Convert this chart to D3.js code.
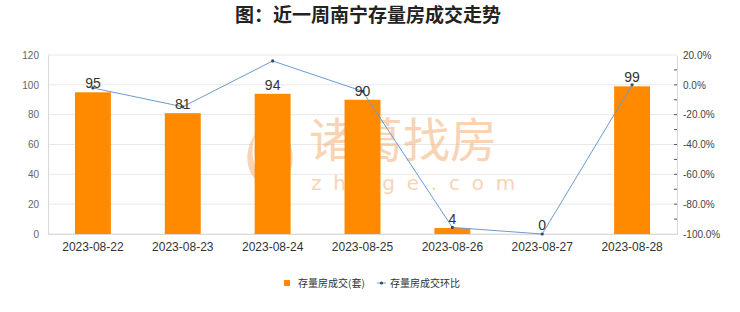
<!DOCTYPE html>
<html>
<head>
<meta charset="utf-8">
<script src="https://cdn.jsdelivr.net/npm/d3@7"></script>
<style>
  html, body { margin: 0; padding: 0; background: #fff; }
  svg { display: block; font-family: "Liberation Sans", Arial, sans-serif; }
</style>
</head>
<body>
<svg id="chart" width="740" height="312"></svg>
<script>
const dates = ['2023-08-22', '2023-08-23', '2023-08-24', '2023-08-25', '2023-08-26', '2023-08-27', '2023-08-28'];
const deals = [95, 81, 94, 90, 4, 0, 99];
const momPct = [-2.1, -14.7, 16.0, -4.3, -95.6, -100, 0];
const leftTicks = [0, 20, 40, 60, 80, 100, 120];
const rightTicks = [-100, -80, -60, -40, -20, 0, 20];

const box = { left: 48, right: 677, top: 55, bottom: 234 };
const cjk = '"Noto Sans CJK SC", sans-serif';

const svg = d3.select('#chart');

const x = d3.scaleBand()
    .domain(dates)
    .range([box.left, box.right])
    .paddingInner(0.6)
    .paddingOuter(0.3);
const yLeft = d3.scaleLinear().domain([0, 120]).range([box.bottom, box.top]);
const yRight = d3.scaleLinear().domain([-100, 20]).range([box.bottom, box.top]);
const cx = d => x(d) + x.bandwidth() / 2;

// title
svg.append('text')
    .attr('x', 368).attr('y', 22)
    .attr('text-anchor', 'middle')
    .style('font-family', cjk)
    .style('font-size', '19px')
    .style('font-weight', 'bold')
    .style('fill', '#222')
    .text('图：近一周南宁存量房成交走势');

// grid
svg.append('g')
    .selectAll('line')
    .data(leftTicks).enter()
    .append('line')
    .attr('x1', box.left).attr('x2', box.right)
    .attr('y1', d => yLeft(d)).attr('y2', d => yLeft(d))
    .style('stroke', '#e8e8e8');

// watermark
const wm = svg.append('g').style('opacity', 0.5);
wm.append('path')
    .attr('d', 'M267,122 C246,138 242,162 254,178 C260,184 267,182 267,176 Z M273,122 C294,138 298,162 286,178 C280,184 273,182 273,176 Z')
    .style('fill', '#f2aa6c');
wm.append('path')
    .attr('d', 'M257,134 C251,148 253,166 261,174 M283,134 C289,148 287,166 279,174')
    .style('fill', 'none').style('stroke', '#fff').style('stroke-width', 2);
wm.append('text')
    .attr('x', 309).attr('y', 157)
    .style('font-family', cjk)
    .style('font-size', '47px')
    .style('fill', '#f2aa6c')
    .text('诸葛找房');
wm.append('text')
    .attr('x', 311).attr('y', 190)
    .style('font-family', '"DejaVu Sans", sans-serif')
    .style('font-size', '20px')
    .style('letter-spacing', '11.8px')
    .style('fill', '#f2aa6c')
    .text('zhuge.com');

// axes
const xAxis = svg.append('g')
    .attr('transform', `translate(0, ${box.bottom})`)
    .call(d3.axisBottom(x).tickSize(0).tickPadding(8));
xAxis.select('.domain').style('stroke', '#d9d9d9');
xAxis.selectAll('text').style('font-size', '12px').style('fill', '#333');

const yAxisL = svg.append('g')
    .attr('transform', `translate(${box.left}, 0)`)
    .call(d3.axisLeft(yLeft).tickValues(leftTicks).tickSize(0).tickPadding(9));
yAxisL.select('.domain').style('stroke', '#d9d9d9');
yAxisL.selectAll('text').style('font-size', '10px').style('fill', '#666');

const yAxisR = svg.append('g')
    .attr('transform', `translate(${box.right}, 0)`)
    .call(d3.axisRight(yRight).tickValues(rightTicks).tickSize(0).tickPadding(6)
        .tickFormat(d => d.toFixed(1) + '%'));
yAxisR.select('.domain').style('stroke', '#d9d9d9');
yAxisR.selectAll('text').style('font-size', '10px').style('fill', '#444');

// inner tick marks on right axis, every 10%
svg.append('g')
    .selectAll('line')
    .data(d3.range(-90, 20, 10)).enter()
    .append('line')
    .attr('x1', box.right - 3).attr('x2', box.right)
    .attr('y1', d => yRight(d)).attr('y2', d => yRight(d))
    .style('stroke', '#555');

// bars
svg.append('g')
    .selectAll('.bar')
    .data(dates).enter()
    .append('rect')
    .classed('bar', true)
    .style('fill', '#ff8a00')
    .attr('x', d => x(d))
    .attr('width', x.bandwidth())
    .attr('y', (d, i) => yLeft(deals[i]))
    .attr('height', (d, i) => box.bottom - yLeft(deals[i]));

// line
const line = d3.line()
    .x((d, i) => cx(dates[i]))
    .y(d => yRight(d));
svg.append('path')
    .datum(momPct)
    .attr('d', line)
    .style('fill', 'none')
    .style('stroke', '#6b9bd1')
    .style('stroke-width', 1);
svg.append('g')
    .selectAll('circle')
    .data(momPct).enter()
    .append('circle')
    .attr('cx', (d, i) => cx(dates[i]))
    .attr('cy', d => yRight(d))
    .attr('r', 1.6)
    .style('fill', '#2c4a73');

// bar labels
svg.append('g')
    .selectAll('text')
    .data(deals).enter()
    .append('text')
    .attr('x', (d, i) => cx(dates[i]))
    .attr('y', d => yLeft(d) - 4)
    .attr('text-anchor', 'middle')
    .style('font-size', '14px')
    .style('fill', '#333')
    .text(d => d);

// legend
const lg = svg.append('g').style('font-family', cjk).style('font-size', '10px').style('fill', '#333');
lg.append('rect').attr('x', 284).attr('y', 280).attr('width', 6).attr('height', 6).style('fill', '#ff8a00');
lg.append('text').attr('x', 298).attr('y', 287).text('存量房成交(套)');
lg.append('line').attr('x1', 377).attr('x2', 386).attr('y1', 283).attr('y2', 283)
    .style('stroke', '#6b9bd1');
lg.append('circle').attr('cx', 381.5).attr('cy', 283).attr('r', 1.6).style('fill', '#2c4a73');
lg.append('text').attr('x', 390).attr('y', 287).text('存量房成交环比');
</script>
</body>
</html>
